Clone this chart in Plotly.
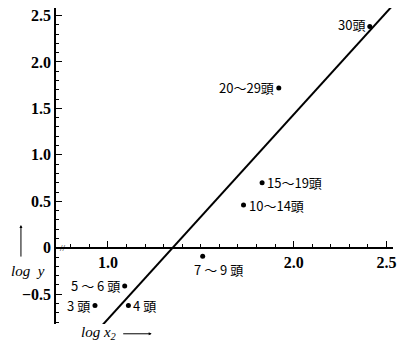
import plotly.graph_objects as go

# ---- data ----
labels = ["3 頭", "4 頭", "5 ～ 6 頭", "7 ～ 9 頭", "10～14頭", "15～19頭", "20～29頭", "30頭"]
log_x2 = [0.93, 1.11, 1.09, 1.51, 1.73, 1.83, 1.92, 2.41]
log_y = [-0.62, -0.62, -0.41, -0.09, 0.46, 0.70, 1.72, 2.38]

# regression line  log y = a + b * log x2
reg_a = -2.966
reg_b = 2.2
reg_x = [0.97, 2.55]

x_tickvals = [1.0, 1.5, 2.0, 2.5]
x_ticktext = ["1.0", "", "2.0", "2.5"]
y_tickvals = [-0.5, 0.0, 0.5, 1.0, 1.5, 2.0, 2.5]
y_ticktext = ["−0.5", "0", "0.5", "1.0", "1.5", "2.0", "2.5"]

# label placement (anchor, x shift px, y shift px)
label_anchor = ["right", "left", "right", "left", "left", "left", "right", "right"]
label_dx = [-3, 3, -3, -11, 3, 3, -3, -3]
label_dy = [0, 0, 0, -13, 0, 0, 0, 2]

x_range = [0.72, 2.535]
y_range = [-0.82, 2.58]

fig = go.Figure()
fig.add_trace(go.Scatter(
    x=reg_x, y=[reg_a + reg_b * v for v in reg_x],
    mode="lines", line=dict(color="black", width=2), hoverinfo="skip",
))
fig.add_trace(go.Scatter(
    x=log_x2, y=log_y, mode="markers",
    marker=dict(color="black", size=5), cliponaxis=False,
))

annotations = []
for xv, yv, t, anc, dx, dy in zip(log_x2, log_y, labels, label_anchor, label_dx, label_dy):
    annotations.append(dict(
        x=xv, y=yv, text=t, showarrow=False, xanchor=anc, yanchor="middle",
        xshift=dx, yshift=dy,
        font=dict(family="Noto Sans CJK JP", size=13, color="black"),
    ))

# axis titles and arrows (paper coordinates, outside the plotting area)
annotations += [
    dict(xref="paper", yref="paper", x=-0.083, y=0.168, text="<i>log  y</i>",
         xanchor="center", yanchor="middle",
         showarrow=False, font=dict(family="Liberation Serif", size=15, color="black")),
    dict(xref="paper", yref="paper", x=-0.104, y=0.313, ax=0, ay=33,
         text="", showarrow=True, arrowhead=2, arrowsize=0.6, arrowwidth=1,
         arrowcolor="black"),
    dict(xref="paper", yref="paper", x=0.128, y=-0.028,
         xanchor="center", yanchor="middle",
         text="<i>log x<sub>2</sub></i>", showarrow=False,
         font=dict(family="Liberation Serif", size=15, color="black")),
    dict(xref="paper", yref="paper", x=0.284, y=-0.031, ax=-30, ay=0,
         text="", showarrow=True, arrowhead=2, arrowsize=0.6, arrowwidth=1,
         arrowcolor="black"),
    dict(x=0.755, y=0, text="//", showarrow=False,
         font=dict(family="Liberation Serif", size=9, color="black")),
]

tickfont = dict(family="Liberation Serif", size=16, color="black", weight="bold")

fig.update_layout(
    width=398, height=345,
    margin=dict(l=56, r=4.5, t=8, b=21),
    paper_bgcolor="white", plot_bgcolor="white",
    showlegend=False,
    annotations=annotations,
    xaxis=dict(
        range=x_range, anchor="free", automargin=False,
        position=(0 - y_range[0]) / (y_range[1] - y_range[0]),
        showline=True, linecolor="black", linewidth=1.5,
        showgrid=False, zeroline=False,
        tickmode="array", tickvals=x_tickvals, ticktext=x_ticktext,
        ticks="inside", ticklen=6, tickwidth=1, tickcolor="black",
        tickfont=tickfont,
        minor=dict(tickmode="array",
                   tickvals=[round(0.8 + 0.1 * i, 1) for i in range(18)],
                   ticks="inside", ticklen=3, tickwidth=1, tickcolor="black",
                   showgrid=False),
    ),
    yaxis=dict(
        range=y_range, automargin=False,
        showline=True, linecolor="black", linewidth=1.5,
        showgrid=False, zeroline=False,
        tickmode="array", tickvals=y_tickvals, ticktext=y_ticktext,
        ticks="inside", ticklen=6, tickwidth=1, tickcolor="black",
        tickfont=tickfont,
        minor=dict(tickmode="array",
                   tickvals=[round(-0.8 + 0.1 * i, 1) for i in range(34)],
                   ticks="inside", ticklen=3, tickwidth=1, tickcolor="black",
                   showgrid=False),
    ),
)

fig.write_html("out.html", config={"displayModeBar": False},
               post_script="document.body.style.margin='0';")
